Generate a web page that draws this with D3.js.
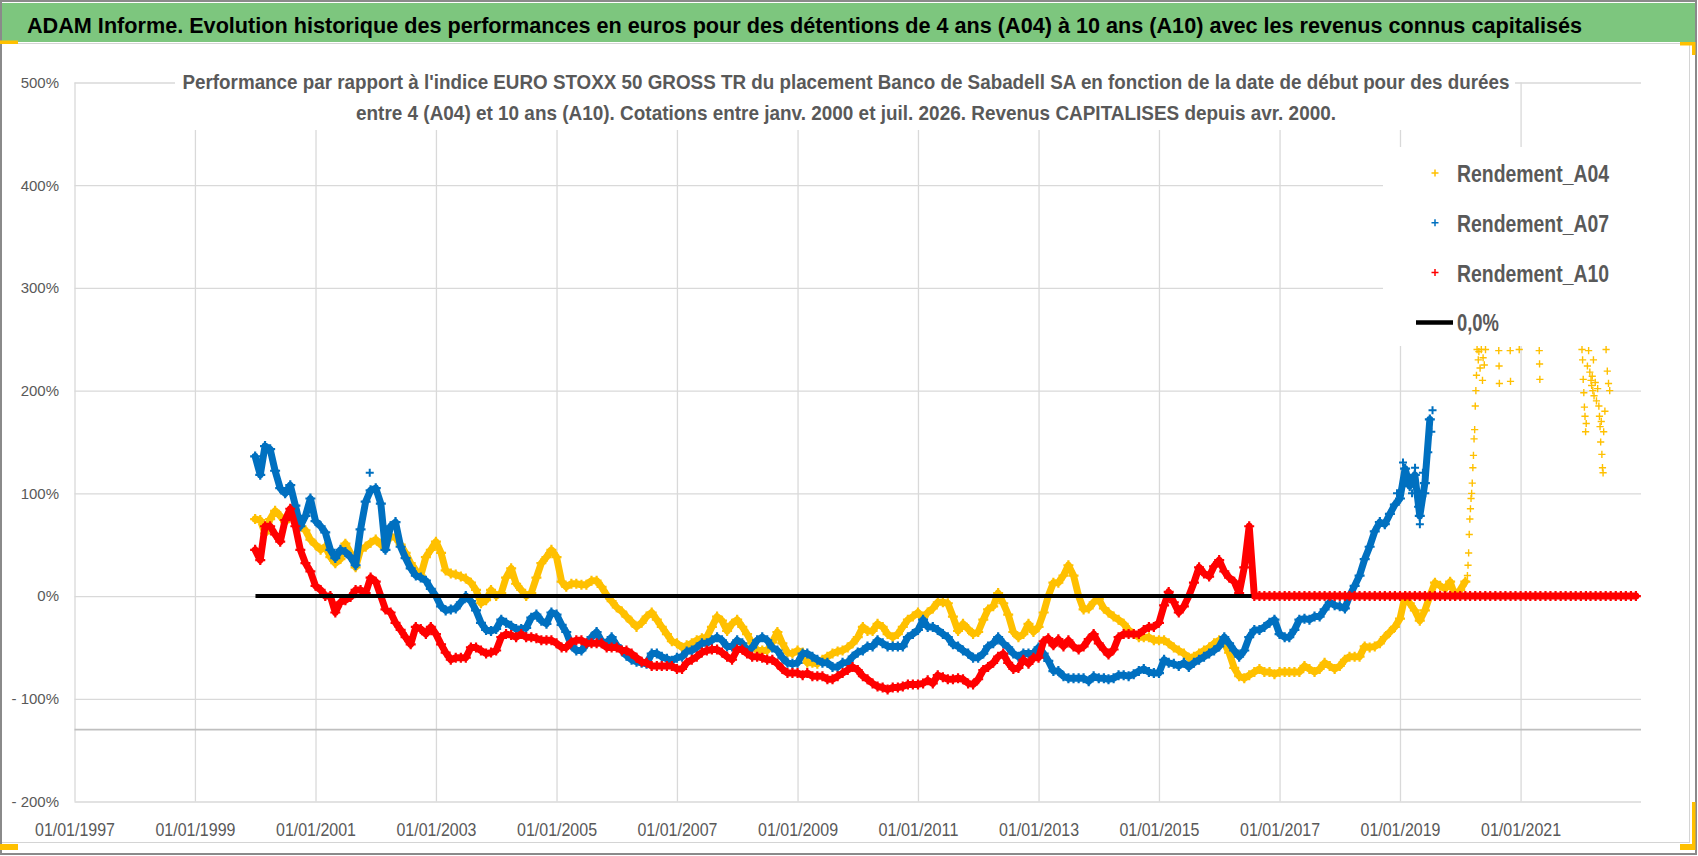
<!DOCTYPE html>
<html>
<head>
<meta charset="utf-8">
<script src="https://cdn.jsdelivr.net/npm/d3@7"></script>
<style>
  html, body { margin: 0; padding: 0; background: #fff; }
  svg { display: block; }
</style>
</head>
<body>
<svg id="chart" width="1698" height="856"></svg>
<script>
const titleText = "ADAM Informe. Evolution historique des performances en euros pour des détentions de 4 ans (A04) à 10 ans (A10) avec les revenus connus capitalisés";
const subtitleLines = [
    "Performance par rapport à l'indice EURO STOXX 50 GROSS TR  du placement Banco de Sabadell SA en fonction de la date de début pour des durées",
    "entre 4 (A04) et 10 ans (A10). Cotations entre janv. 2000 et juil. 2026. Revenus CAPITALISES depuis avr. 2000."
];
const xTickLabels = ["01/01/1997", "01/01/1999", "01/01/2001", "01/01/2003", "01/01/2005", "01/01/2007", "01/01/2009",
    "01/01/2011", "01/01/2013", "01/01/2015", "01/01/2017", "01/01/2019", "01/01/2021"];
const yTickValues = [500, 400, 300, 200, 100, 0, -100, -200];
const yTickLabels = ["500%", "400%", "300%", "200%", "100%", "0%", "- 100%", "- 200%"];
const legendNames = ["Rendement_A04", "Rendement_A07", "Rendement_A10", "0,0%"];
const seriesColors = ["#FFC000", "#0070C0", "#FF0000"];

// monthly values (%), first value = January 2000
const firstMonth = "2000-01";
const a04Values = [
    75, 74, 61, 75, 83, 78, 72, 80, 78, 68, 64, 55,
    50, 45, 48, 38, 32, 36, 51, 42, 28, 45, 48, 52,
    55, 50, 52, 58, 57, 50, 42, 32, 25, 20, 38, 45,
    53, 42, 25, 22, 21, 19, 17, 13, 6, -7, -4, 6,
    0, 3, 18, 27, 12, 6, 0, 3, 18, 32, 38, 45,
    38, 14, 9, 12, 12, 11, 11, 15, 15, 9, 1, -5,
    -11, -15, -20, -25, -30, -26, -20, -16, -23, -30, -37, -44,
    -46, -50, -48, -46, -43, -41, -40, -30, -20, -24, -34, -27,
    -23, -30, -37, -46, -53, -53, -53, -45, -35, -46, -55, -56,
    -53, -55, -65, -65, -66, -62, -59, -56, -54, -53, -50, -46,
    -40, -30, -34, -34, -27, -30, -37, -40, -37, -30, -23, -20,
    -16, -21, -16, -12, -6, -6, -7, -20, -34, -27, -32, -37,
    -35, -23, -13, -10, 3, -7, -18, -35, -40, -37, -27, -35,
    -30, -16, 0, 13, 13, 20, 30, 20, 0, -13, -12, -6,
    -3, -12, -16, -20, -23, -27, -33, -37, -40, -40, -40, -43,
    -43, -43, -46, -50, -53, -56, -60, -59, -56, -53, -50, -46,
    -43, -46, -55, -70, -78, -80, -77, -74, -71, -74, -74, -76,
    -74, -74, -74, -74, -74, -68, -71, -74, -71, -65, -68, -71,
    -68, -62, -59, -59, -59, -49, -50, -49, -46, -40, -35, -30,
    -22, 0, -7, -14, -24, -14, 0, 13, 10, 7, 14, 0,
    6, 14
];
const a07Values = [
    136, 118, 146, 143, 122, 105, 100, 108, 88, 68, 78, 95,
    73, 68, 62, 45, 37, 45, 43, 38, 30, 65, 92, 103,
    105, 90, 45, 68, 72, 48, 37, 27, 20, 18, 15, 7,
    0, -10, -14, -13, -12, -6, 0, -5, -14, -26, -33, -34,
    -32, -23, -26, -29, -32, -32, -31, -21, -18, -24, -27, -16,
    -18, -28, -35, -48, -53, -53, -47, -40, -35, -44, -46, -40,
    -48, -53, -58, -62, -64, -65, -66, -56, -56, -59, -61, -63,
    -60, -59, -54, -53, -50, -46, -46, -43, -40, -43, -49, -49,
    -43, -46, -53, -50, -43, -40, -43, -50, -53, -60, -65, -66,
    -65, -56, -56, -59, -62, -65, -65, -69, -69, -65, -65, -59,
    -55, -53, -49, -49, -43, -46, -49, -49, -49, -49, -40, -37,
    -33, -23, -30, -30, -33, -37, -40, -47, -49, -53, -56, -60,
    -60, -56, -49, -46, -40, -46, -50, -56, -59, -56, -56, -56,
    -50, -56, -63, -73, -73, -78, -80, -80, -80, -80, -83, -78,
    -80, -80, -81, -80, -77, -77, -78, -76, -73, -71, -74, -75,
    -75, -62, -65, -66, -68, -65, -69, -65, -62, -59, -56, -53,
    -49, -40, -46, -53, -59, -53, -40, -33, -33, -30, -26, -23,
    -37, -40, -40, -33, -23, -22, -23, -20, -20, -13, -6, -9,
    -10, -12, 0, 10, 20, 36, 48, 63, 72, 70, 80, 89,
    95, 124, 107, 118, 78, 110, 172
];
const a10Values = [
    45, 35, 68, 68, 60, 53, 74, 85, 68, 45, 32, 24,
    10, 6, 0, 0, -16, -6, -4, -1, 6, 6, 3, 18,
    14, 0, -13, -16, -26, -33, -40, -47, -30, -32, -37, -30,
    -37, -47, -55, -62, -60, -60, -60, -50, -50, -53, -56, -55,
    -53, -40, -37, -38, -40, -37, -40, -40, -41, -43, -43, -43,
    -46, -50, -50, -45, -43, -43, -46, -46, -46, -46, -50, -50,
    -50, -53, -53, -56, -60, -64, -65, -68, -68, -68, -68, -68,
    -71, -71, -65, -62, -59, -55, -53, -52, -52, -55, -59, -62,
    -52, -52, -56, -59, -59, -60, -62, -62, -66, -71, -75, -75,
    -75, -77, -75, -78, -78, -78, -81, -81, -78, -75, -72, -69,
    -72, -78, -81, -85, -88, -89, -91, -89, -89, -88, -86, -86,
    -86, -85, -82, -85, -77, -79, -81, -81, -80, -81, -85, -86,
    -81, -72, -69, -65, -59, -56, -65, -71, -70, -62, -66, -60,
    -60, -44, -41, -48, -42, -49, -43, -49, -52, -49, -42, -37,
    -46, -52, -57, -52, -40, -37, -37, -37, -37, -33, -30, -30,
    -26, -9, 4, -6, -16, -10, 0, 13, 28, 22, 19, 29,
    35, 24, 18, 14, 3, 28, 68, 0, 0, 0, 0, 0,
    0, 0, 0, 0, 0, 0, 0, 0, 0, 0, 0, 0,
    0, 0, 0, 0, 0, 0, 0, 0, 0, 0, 0, 0,
    0, 0, 0, 0, 0, 0, 0, 0, 0, 0, 0, 0,
    0, 0, 0, 0, 0, 0, 0, 0, 0, 0, 0, 0,
    0, 0, 0, 0, 0, 0, 0, 0, 0, 0, 0, 0,
    0, 0, 0, 0, 0, 0, 0, 0, 0, 0, 0, 0
];

// scattered points, dates in decimal years
const a04LateYears = [2020.12, 2020.13, 2020.14, 2020.15, 2020.16, 2020.17, 2020.18, 2020.19, 2020.2, 2020.21,
    2020.22, 2020.23, 2020.24, 2020.25, 2020.26, 2020.27, 2020.28, 2020.3, 2020.31, 2020.33, 2020.35, 2020.37,
    2020.38, 2020.4, 2020.42, 2020.64, 2020.645, 2020.65, 2020.83, 2020.835, 2020.98, 2021.31, 2021.315, 2021.32,
    2022.02, 2022.03, 2022.04, 2022.05, 2022.06, 2022.07, 2022.08, 2022.09, 2022.11, 2022.13, 2022.15, 2022.17,
    2022.18, 2022.19, 2022.2, 2022.21, 2022.22, 2022.24, 2022.26, 2022.28, 2022.3, 2022.31, 2022.32, 2022.33,
    2022.34, 2022.35, 2022.36, 2022.37, 2022.38, 2022.4, 2022.42, 2022.44, 2022.46, 2022.48];
const a04LateValues = [20, 30, 42, 60, 75, 85, 95, 100, 110, 125,
    137, 153, 162, 185, 200, 215, 240, 230, 238, 222, 240, 210,
    232, 225, 240, 239, 224, 207, 239, 209, 240, 239, 226, 211,
    240, 230, 211, 198, 184, 175, 160, 168, 224, 239, 218, 210,
    205, 214, 200, 230, 195, 208, 190, 202, 185, 175, 165, 150,
    170, 138, 125, 120, 160, 180, 240, 219, 207, 200];
const a07LateYears = [2001.9, 2018.95, 2019.05, 2019.1, 2019.2, 2019.25, 2019.3, 2019.33, 2019.38, 2019.42, 2019.47, 2019.52, 2019.54];
const a07LateValues = [120, 100, 130, 115, 100, 125, 87, 70, 120, 100, 140, 160, 181];

const zeroLineDates = ["03/01/2000", "15/07/2016"];
const zeroLineValues = [0, 0];

const FONT = "'Liberation Sans Narrow', 'Liberation Sans', Arial, sans-serif";
const GREY_TEXT = "#595959";
const GRID = "#D9D9D9";

const parseDay = d3.timeParse("%d/%m/%Y");
const parseMonth = d3.timeParse("%Y-%m");
const monthAt = i => d3.timeMonth.offset(parseMonth(firstMonth), i);
const yearToDate = yr => {
    const y0 = Math.floor(yr);
    return new Date(+new Date(y0, 0, 1) + (yr - y0) * 365.25 * 864e5);
};

const x = d3.scaleTime()
    .domain([new Date(1997, 0, 1), new Date(2023, 0, 1)])
    .range([74.5, 1641]);
const y = d3.scaleLinear()
    .domain([-200, 500])
    .range([801.5, 82.5]);

const svg = d3.select("#chart");

// frame and title bar
svg.append("rect").attr("width", 1698).attr("height", 856).attr("fill", "#fff");
svg.append("rect").attr("x", 2).attr("y", 3).attr("width", 1693).attr("height", 39).attr("fill", "#7DC67E");
svg.append("line").attr("x1", 0).attr("x2", 1690).attr("y1", 43.5).attr("y2", 43.5).attr("stroke", "#d4d4d4");
svg.append("line").attr("x1", 0).attr("x2", 1690).attr("y1", 842.5).attr("y2", 842.5).attr("stroke", "#d4d4d4");
svg.append("line").attr("x1", 1689.5).attr("x2", 1689.5).attr("y1", 43).attr("y2", 843).attr("stroke", "#d4d4d4");

svg.append("text")
    .attr("x", 27).attr("y", 33)
    .attr("font-family", FONT).attr("font-size", 22).attr("font-weight", "bold")
    .attr("fill", "#000")
    .attr("textLength", 1555).attr("lengthAdjust", "spacingAndGlyphs")
    .text(titleText);

// grid + axes
const plot = svg.append("g");

const xAxis = d3.axisBottom(x)
    .tickValues(xTickLabels.map(parseDay))
    .tickFormat(d3.timeFormat("%d/%m/%Y"))
    .tickSize(-(y(-200) - y(500)))
    .tickPadding(21);

const gx = plot.append("g")
    .attr("transform", `translate(0,${y(-200)})`)
    .call(xAxis);
gx.select(".domain").remove();
gx.selectAll("line").attr("stroke", GRID).attr("stroke-width", 1.3);
gx.selectAll("text")
    .attr("font-family", FONT).attr("font-size", 18.5).attr("fill", GREY_TEXT)
    .attr("textLength", 80).attr("lengthAdjust", "spacingAndGlyphs");

const yAxis = d3.axisLeft(y)
    .tickValues(yTickValues)
    .tickFormat(v => yTickLabels[yTickValues.indexOf(v)])
    .tickSize(-(x.range()[1] - x.range()[0]))
    .tickPadding(15.5);

const gy = plot.append("g")
    .attr("transform", `translate(${x.range()[0]},0)`)
    .call(yAxis);
gy.select(".domain").remove();
gy.selectAll("line").attr("stroke", GRID).attr("stroke-width", 1.3);
gy.selectAll("text")
    .attr("font-family", "'Liberation Sans', Arial, sans-serif").attr("font-size", 15).attr("fill", GREY_TEXT);

// horizontal axis line crossing at -130%
plot.append("line")
    .attr("x1", x.range()[0]).attr("x2", x.range()[1])
    .attr("y1", y(-130)).attr("y2", y(-130))
    .attr("stroke", "#BFBFBF").attr("stroke-width", 1.6);

// subtitle box hides the grid behind it
svg.append("rect").attr("x", 175).attr("y", 52).attr("width", 1340).attr("height", 78).attr("fill", "#fff");
svg.append("g")
    .selectAll("text")
    .data(subtitleLines)
    .join("text")
    .attr("x", 846)
    .attr("y", (d, i) => 89 + i * 31)
    .attr("text-anchor", "middle")
    .attr("font-family", FONT).attr("font-size", 21).attr("font-weight", "bold")
    .attr("fill", GREY_TEXT)
    .attr("textLength", (d, i) => [1327, 980][i]).attr("lengthAdjust", "spacingAndGlyphs")
    .text(d => d);

// series
const plus = r => `M${-r},0H${r}M0,${-r}V${r}`;
const line = d3.line().x(d => x(d.date)).y(d => y(d.v));

const monthly = values => values.map((v, i) => ({date: monthAt(i), v}));
const scattered = (years, values) => years.map((yr, i) => ({date: yearToDate(yr), v: values[i]}));

function drawBand(g, points, color) {
    g.append("path")
        .datum(points)
        .attr("fill", "none")
        .attr("stroke", color)
        .attr("stroke-width", 7)
        .attr("stroke-linejoin", "round")
        .attr("stroke-linecap", "round")
        .attr("d", line);
    drawMarks(g, points, color, 5, 2.2);
}

function drawMarks(g, points, color, r, w) {
    g.append("g")
        .selectAll("path")
        .data(points)
        .join("path")
        .attr("d", plus(r))
        .attr("transform", d => `translate(${x(d.date)},${y(d.v)})`)
        .attr("fill", "none")
        .attr("stroke", color)
        .attr("stroke-width", w);
}

const series = svg.append("g");
drawBand(series.append("g"), monthly(a04Values), seriesColors[0]);
drawMarks(series.append("g"), scattered(a04LateYears, a04LateValues), seriesColors[0], 3.6, 1.4);
drawBand(series.append("g"), monthly(a07Values), seriesColors[1]);
drawMarks(series.append("g"), scattered(a07LateYears, a07LateValues), seriesColors[1], 4, 2);
drawBand(series.append("g"), monthly(a10Values), seriesColors[2]);

series.append("path")
    .datum(zeroLineDates.map((d, i) => ({date: parseDay(d), v: zeroLineValues[i]})))
    .attr("fill", "none")
    .attr("stroke", "#000")
    .attr("stroke-width", 4)
    .attr("d", line);

// legend
svg.append("rect").attr("x", 1383).attr("y", 147).attr("width", 262).attr("height", 199).attr("fill", "#fff");
const legend = svg.append("g")
    .selectAll("g")
    .data(legendNames)
    .join("g")
    .attr("transform", (d, i) => `translate(0,${173 + i * 49.8})`);

legend.filter((d, i) => i < 3)
    .append("path")
    .attr("d", plus(3.5))
    .attr("transform", "translate(1435,0)")
    .attr("stroke", (d, i) => seriesColors[i])
    .attr("stroke-width", 1.5);

legend.filter((d, i) => i === 3)
    .append("line")
    .attr("x1", 1416).attr("x2", 1453)
    .attr("stroke", "#000").attr("stroke-width", 4.5);

legend.append("text")
    .attr("x", 1457)
    .attr("y", 9)
    .attr("font-family", FONT).attr("font-size", 24).attr("font-weight", "bold")
    .attr("fill", GREY_TEXT)
    .attr("textLength", (d, i) => i < 3 ? 152 : 42).attr("lengthAdjust", "spacingAndGlyphs")
    .text(d => d);

// outer frame and selection handles
svg.append("rect").attr("x", 1).attr("y", 1).attr("width", 1695).attr("height", 853)
    .attr("fill", "none").attr("stroke", "#8a8a8a").attr("stroke-width", 2);
const handles = [[0, 40.5, 18, 3.5], [1680, 42, 15, 3.5], [1692, 42, 3.5, 13], [0, 844, 18, 6], [1692, 802, 3.5, 48], [1680, 844, 15, 6]];
svg.append("g")
    .selectAll("rect")
    .data(handles)
    .join("rect")
    .attr("x", d => d[0]).attr("y", d => d[1]).attr("width", d => d[2]).attr("height", d => d[3])
    .attr("fill", "#FFC000");
</script>
</body>
</html>
